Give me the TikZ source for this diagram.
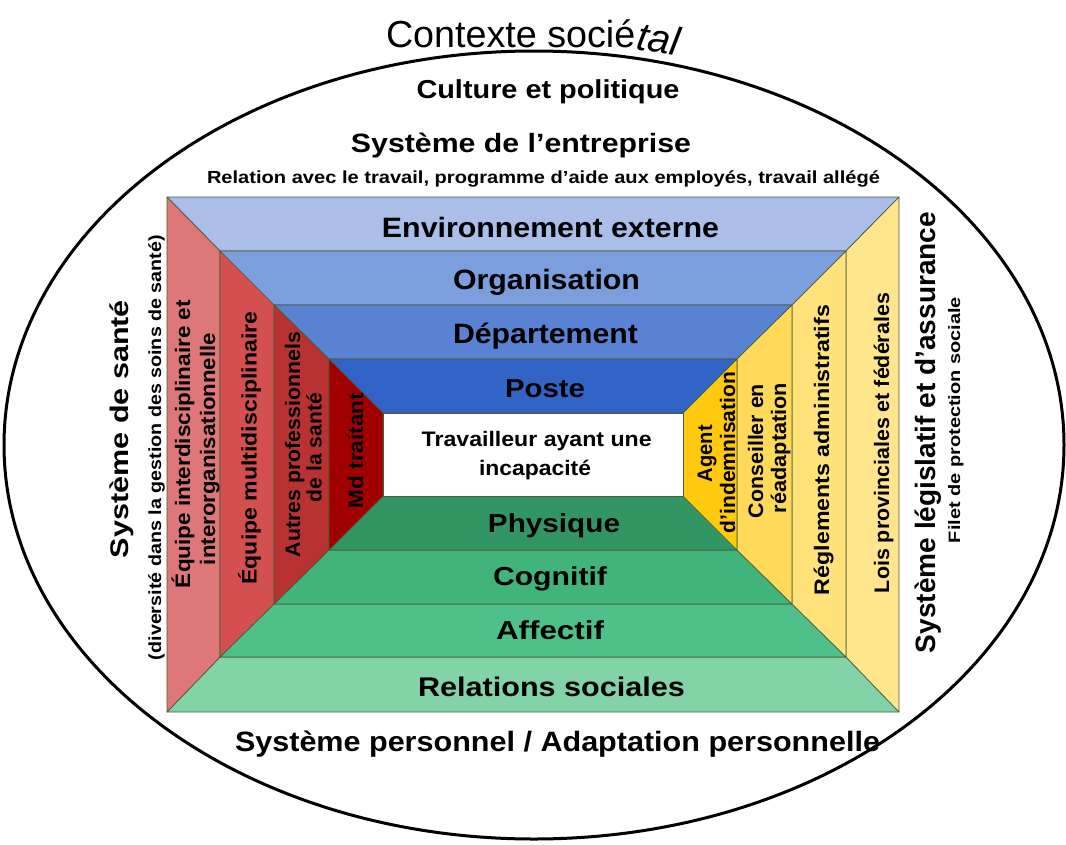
\documentclass[tikz,border=0pt]{standalone}
\usepackage{fontspec}
\setmainfont{Liberation Sans}
\usepackage{graphicx}
\newcommand\fb[3]{\resizebox{#1pt}{\height}{\fontsize{#2}{#2}\selectfont\bfseries #3}}
\definecolor{bla}{HTML}{AABEE8}
\definecolor{blb}{HTML}{7C9EDD}
\definecolor{blc}{HTML}{5A82D2}
\definecolor{bld}{HTML}{3264C8}
\definecolor{gra}{HTML}{82D4A8}
\definecolor{grb}{HTML}{50C08A}
\definecolor{grc}{HTML}{40B47A}
\definecolor{grd}{HTML}{329664}
\definecolor{rda}{HTML}{DE7878}
\definecolor{rdb}{HTML}{D45050}
\definecolor{rdc}{HTML}{B83232}
\definecolor{rdd}{HTML}{A00000}
\definecolor{yla}{HTML}{FFE68C}
\definecolor{ylb}{HTML}{FFE27A}
\definecolor{ylc}{HTML}{FFD95A}
\definecolor{yld}{HTML}{FFC90E}
\definecolor{edge}{HTML}{4A5A3A}
\tikzset{
  band/.style={draw=edge, line width=0.7pt, line join=round},
  lbl/.style={inner sep=0pt, outer sep=0pt, text=black, anchor=base},
  rot/.style={lbl, rotate=90}
}
\begin{document}
\begin{tikzpicture}[x=1pt,y=-1pt]
\useasboundingbox (0,0) rectangle (1066,844);
\fill[white] (0,0) rectangle (1066,844);
\draw[line width=3pt] (534,445) ellipse [x radius=530, y radius=394];
% corners
\coordinate (a0) at (167,197); \coordinate (b0) at (899,197); \coordinate (c0) at (899,712); \coordinate (d0) at (167,712);
\coordinate (a1) at (220,251); \coordinate (b1) at (846,251); \coordinate (c1) at (846,657); \coordinate (d1) at (220,657);
\coordinate (a2) at (274,305); \coordinate (b2) at (792,305); \coordinate (c2) at (792,604); \coordinate (d2) at (274,604);
\coordinate (a3) at (329,359); \coordinate (b3) at (737,359); \coordinate (c3) at (737,550); \coordinate (d3) at (329,550);
\coordinate (a4) at (383,413); \coordinate (b4) at (683,413); \coordinate (c4) at (683,496); \coordinate (d4) at (383,496);
\foreach \i/\j/\ct/\cr/\cb/\cl in {0/1/bla/yla/gra/rda, 1/2/blb/ylb/grb/rdb, 2/3/blc/ylc/grc/rdc, 3/4/bld/yld/grd/rdd}{
  \filldraw[band, fill=\ct] (a\i) -- (b\i) -- (b\j) -- (a\j) -- cycle;
  \filldraw[band, fill=\cb] (d\i) -- (c\i) -- (c\j) -- (d\j) -- cycle;
  \filldraw[band, fill=\cl] (a\i) -- (d\i) -- (d\j) -- (a\j) -- cycle;
  \filldraw[band, fill=\cr] (b\i) -- (c\i) -- (c\j) -- (b\j) -- cycle;
}
\filldraw[band, fill=white] (a4) rectangle (c4);
% title
\node[lbl, anchor=base west, font=\fontsize{37.7}{40}\selectfont] (ctx) at (386,47) {Contexte socié\raisebox{-2pt}{\rotatebox[origin=bl]{-10}{\fontsize{40}{42}\selectfont\itshape tal}}};
% horizontal labels
\node[lbl] (cul) at (548,98) {\fb{263}{26}{Culture et politique}};
\node[lbl] (ent) at (521,152) {\fb{340}{26.5}{Système de l’entreprise}};
\node[lbl] (rel) at (543.5,183) {\fb{673}{17.5}{Relation avec le travail, programme d’aide aux employés, travail allégé}};
\node[lbl] (env) at (550.5,237) {\fb{337}{28}{Environnement externe}};
\node[lbl] (org) at (546.5,289) {\fb{187}{28}{Organisation}};
\node[lbl] (dep) at (545.5,343) {\fb{185}{28}{Département}};
\node[lbl] (pos) at (545,397) {\fb{80}{26}{Poste}};
\node[lbl] (trav1) at (536.7,446.7) {\fb{230}{21}{Travailleur ayant une}};
\node[lbl] (trav2) at (535,475) {\fb{112}{21}{incapacité}};
\node[lbl] (phy) at (554,532) {\fb{132}{26}{Physique}};
\node[lbl] (cog) at (550,585.5) {\fb{114}{26}{Cognitif}};
\node[lbl] (aff) at (550,639.5) {\fb{108}{26}{Affectif}};
\node[lbl] (soc) at (551.5,696) {\fb{267}{27}{Relations sociales}};
\node[lbl] (pers) at (557.5,751) {\fb{645}{28}{Système personnel / Adaptation personnelle}};
% left rotated labels
\node[rot] (sante) at (128,429) {\fb{258}{25.5}{Système de santé}};
\node[rot] (div) at (161,447.5) {\fb{425}{17.5}{(diversité dans la gestion des soins de santé)}};
\node[rot] (eqi1) at (190,444) {\fb{288}{21}{Équipe interdisciplinaire et}};
\node[rot] (eqi2) at (215,449) {\fb{232}{21}{interorganisationnelle}};
\node[rot] (eqm) at (256.7,448) {\fb{273}{21}{Équipe multidisciplinaire}};
\node[rot] (aut1) at (300,444.5) {\fb{225}{21}{Autres professionnels}};
\node[rot] (aut2) at (321.7,447.5) {\fb{109}{21}{de la santé}};
\node[rot] (md) at (363,450.5) {\fb{115}{21}{Md traitant}};
% right rotated labels
\node[rot] (ag1) at (712,453.5) {\fb{57}{21}{Agent}};
\node[rot] (ag2) at (735,452.5) {\fb{161}{21}{d’indemnisation}};
\node[rot] (con1) at (763,451) {\fb{134}{21}{Conseiller en}};
\node[rot] (con2) at (786,448) {\fb{130}{21}{réadaptation}};
\node[rot] (reg) at (829,450) {\fb{290}{21}{Réglements administratifs}};
\node[rot] (lois) at (889,443) {\fb{300}{21}{Lois provinciales et fédérales}};
\node[rot] (leg) at (935,432.5) {\fb{441}{28}{Système législatif et d’assurance}};
\node[rot] (fil) at (960,420) {\fb{246}{16.5}{Filet de protection sociale}};
\end{tikzpicture}
\end{document}
